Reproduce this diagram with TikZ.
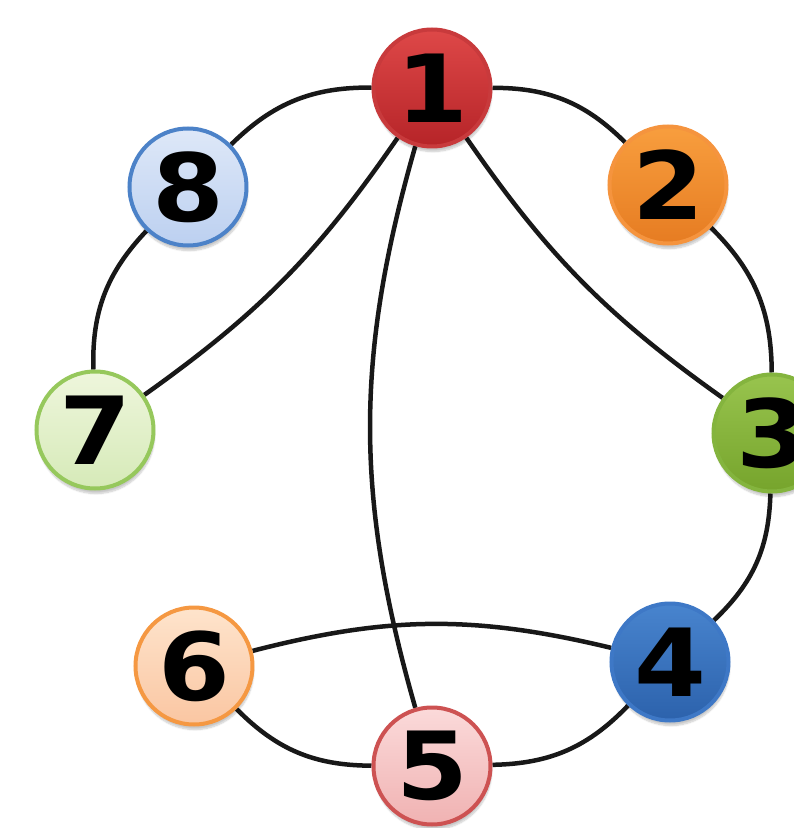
\documentclass[tikz,border=0pt]{standalone}
\usepackage{fontspec}
\newfontfamily\digitfont{DejaVu Sans}[FakeStretch=1.1]
\usepackage{xcolor}
\definecolor{vred}{RGB}{200,58,60}
\definecolor{vredtop}{RGB}{222,72,72}
\definecolor{vredbot}{RGB}{182,36,40}
\definecolor{vorange}{RGB}{245,148,62}
\definecolor{vorangetop}{RGB}{248,158,62}
\definecolor{vorangebot}{RGB}{230,124,34}
\definecolor{vgreen}{RGB}{132,180,62}
\definecolor{vgreentop}{RGB}{152,196,78}
\definecolor{vgreenbot}{RGB}{118,164,44}
\definecolor{vblue}{RGB}{62,120,198}
\definecolor{vbluetop}{RGB}{72,132,206}
\definecolor{vbluebot}{RGB}{44,98,172}
\definecolor{vpink}{RGB}{205,82,82}
\definecolor{vpinktop}{RGB}{251,218,218}
\definecolor{vpinkbot}{RGB}{240,178,178}
\definecolor{vpeach}{RGB}{245,152,66}
\definecolor{vpeachtop}{RGB}{254,228,204}
\definecolor{vpeachbot}{RGB}{250,198,162}
\definecolor{vlime}{RGB}{150,200,92}
\definecolor{vlimetop}{RGB}{238,246,220}
\definecolor{vlimebot}{RGB}{214,234,184}
\definecolor{vsky}{RGB}{76,130,200}
\definecolor{vskytop}{RGB}{222,232,248}
\definecolor{vskybot}{RGB}{188,208,240}
\definecolor{edgeblack}{RGB}{24,24,24}
\usetikzlibrary{backgrounds,shadows.blur}

\begin{document}
\begin{tikzpicture}[x=1pt,y=1pt,
    vert/.style={circle,line width=4pt,minimum size=117pt,
      inner sep=0pt,text=black,
      font={\digitfont\bfseries\fontsize{94}{94}\selectfont},
      blur shadow={shadow xshift=1pt,shadow yshift=-5pt,shadow opacity=22,shadow blur steps=8}},
    link/.style={draw=edgeblack,line width=4.5pt}]
  \useasboundingbox (-432,-400) rectangle (362,428);
  % vertices on the ring
  \node[vert,draw=vred,top color=vredtop,bottom color=vredbot]       (v1) at (0,340)     {1};
  \node[vert,draw=vorange,top color=vorangetop,bottom color=vorangebot] (v2) at (236,243) {2};
  \node[vert,draw=vgreen,top color=vgreentop,bottom color=vgreenbot] (v3) at (340,-5)    {3};
  \node[vert,draw=vblue,top color=vbluetop,bottom color=vbluebot]    (v4) at (238,-234)  {4};
  \node[vert,draw=vpink,top color=vpinktop,bottom color=vpinkbot]    (v5) at (0,-338)    {5};
  \node[vert,draw=vpeach,top color=vpeachtop,bottom color=vpeachbot] (v6) at (-238,-238) {6};
  \node[vert,draw=vlime,top color=vlimetop,bottom color=vlimebot]    (v7) at (-337,-2)   {7};
  \node[vert,draw=vsky,top color=vskytop,bottom color=vskybot]       (v8) at (-244,241)  {8};
  % edges
  \begin{pgfonlayer}{background}
    \draw[link] (v1) to[bend left=22.5] (v2);
    \draw[link] (v2) to[bend left=22.5] (v3);
    \draw[link] (v3) to[bend left=22.5] (v4);
    \draw[link] (v4) to[bend left=22.5] (v5);
    \draw[link] (v5) to[bend left=22.5] (v6);
    \draw[link] (v7) to[bend left=22.5] (v8);
    \draw[link] (v8) to[bend left=22.5] (v1);
    \draw[link] (v6) to[bend left=14] (v4);
    \draw[link] (v1) to[bend left=10] (v7);
    \draw[link] (v1) to[bend right=10] (v3);
    \draw[link] (v1) to[bend right=16] (v5);
  \end{pgfonlayer}
\end{tikzpicture}
\end{document}
